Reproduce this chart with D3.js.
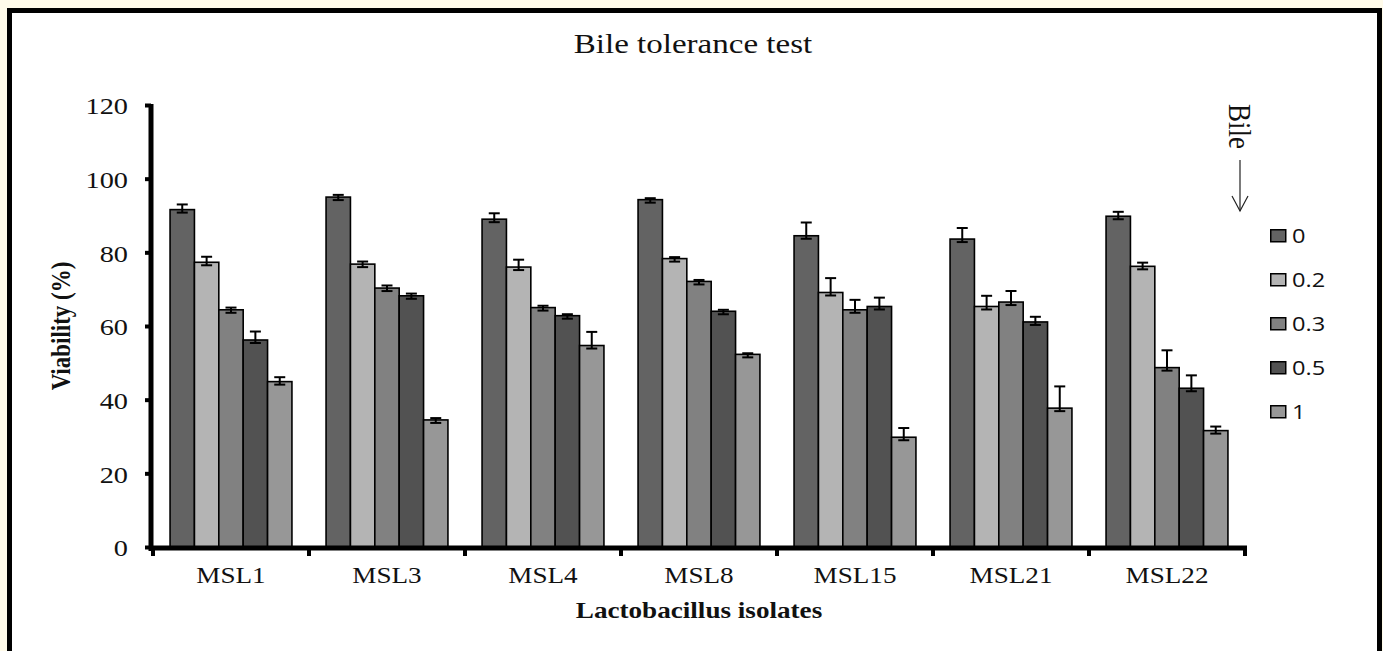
<!DOCTYPE html>
<html>
<head>
<meta charset="utf-8">
<script src="https://cdn.jsdelivr.net/npm/d3@7"></script>
<style>
  html, body { margin: 0; padding: 0; background: #fffbea; }
  svg { display: block; }
</style>
</head>
<body>
<script>
// Data
const isolates = ["MSL1", "MSL3", "MSL4", "MSL8", "MSL15", "MSL21", "MSL22"];
const bileLevels = ["0", "0.2", "0.3", "0.5", "1"];
const barColors = ["#636363", "#b4b4b4", "#818181", "#525252", "#979797"];

// viability (%) per isolate, one value for each bile level
const viability = [
  [91.6, 77.3, 64.4, 56.2, 44.9],
  [95.0, 76.8, 70.3, 68.2, 34.5],
  [89.0, 76.0, 65.0, 62.8, 54.7],
  [94.3, 78.3, 72.1, 64.0, 52.3],
  [84.5, 69.1, 64.4, 65.3, 29.8],
  [83.6, 65.3, 66.5, 61.1, 37.7],
  [89.8, 76.2, 48.7, 43.1, 31.6]
];
// error (upper) per bar
const errors = [
  [1.4, 1.5, 0.6, 2.3, 1.2],
  [0.6, 0.7, 0.7, 0.6, 0.5],
  [1.6, 2.0, 0.5, 0.4, 3.7],
  [0.4, 0.4, 0.4, 0.4, 0.3],
  [3.6, 3.9, 2.7, 2.4, 2.5],
  [3.0, 2.9, 3.0, 1.4, 5.9],
  [1.2, 1.0, 4.7, 3.5, 1.1]
];
const yTicks = [0, 20, 40, 60, 80, 100, 120];

const W = 1383, H = 651;
const serif = "'Liberation Serif', 'Times New Roman', serif";
const sx = 1.18; // the original image is a bit wider than tall, text looks stretched

const svg = d3.select("body").append("svg")
  .attr("width", W)
  .attr("height", H);

// frame
svg.append("rect")
  .attr("x", 9.5).attr("y", 10.5)
  .attr("width", 1370).attr("height", 660)
  .attr("fill", "#fff")
  .attr("stroke", "#000")
  .attr("stroke-width", 5);

// scales
const x = d3.scaleBand()
  .domain(isolates)
  .range([153, 1245]);

const xs = d3.scaleBand()
  .domain(bileLevels)
  .range([0, x.bandwidth()])
  .paddingOuter(0.7);

const y = d3.scaleLinear()
  .domain([0, 120])
  .range([547, 105]);

const rows = isolates.map((name, i) => ({
  name,
  bars: bileLevels.map((lvl, j) => ({ lvl, j, v: viability[i][j], e: errors[i][j] }))
}));

// bars
const groups = svg.selectAll("g.grp")
  .data(rows)
  .enter()
  .append("g")
  .attr("class", "grp")
  .attr("transform", d => `translate(${x(d.name)},0)`);

groups.selectAll("rect")
  .data(d => d.bars)
  .enter()
  .append("rect")
  .attr("x", d => xs(d.lvl))
  .attr("y", d => y(d.v))
  .attr("width", xs.bandwidth())
  .attr("height", d => y(0) - y(d.v))
  .attr("fill", (d) => barColors[d.j])
  .attr("stroke", "#000")
  .attr("stroke-width", 1.6);

// error bars
const err = groups.selectAll("g.err")
  .data(d => d.bars)
  .enter()
  .append("g")
  .attr("class", "err")
  .attr("stroke", "#000")
  .attr("stroke-width", 2);

const cx = d => xs(d.lvl) + xs.bandwidth() / 2;
err.append("line")
  .attr("x1", cx).attr("x2", cx)
  .attr("y1", d => y(d.v) + 3)
  .attr("y2", d => y(d.v + d.e));
err.append("line")
  .attr("x1", d => cx(d) - 5.5)
  .attr("x2", d => cx(d) + 5.5)
  .attr("y1", d => y(d.v + d.e))
  .attr("y2", d => y(d.v + d.e));
err.append("line")
  .attr("x1", d => cx(d) - 5.5)
  .attr("x2", d => cx(d) + 5.5)
  .attr("y1", d => y(d.v) + 3)
  .attr("y2", d => y(d.v) + 3);

// y axis
const yAxis = svg.append("g")
  .attr("transform", `translate(151,0)`)
  .call(d3.axisLeft(y).tickValues(yTicks).tickSize(6).tickPadding(0).tickSizeOuter(0));
yAxis.select(".domain").attr("stroke-width", 5).attr("d", `M0,${y(120) - 1}V${y(0) + 4}`);
yAxis.selectAll(".tick line").attr("stroke-width", 4);
yAxis.selectAll(".tick text")
  .attr("x", null)
  .attr("transform", `translate(-23,1) scale(${sx},1)`)
  .attr("font-family", serif)
  .attr("font-size", 24)
  .attr("fill", "#111");

// x axis
const xAxis = svg.append("g")
  .attr("transform", `translate(0,${y(0) + 1})`)
  .call(d3.axisBottom(x).tickSize(0).tickPadding(0));
xAxis.select(".domain").attr("stroke-width", 5).attr("d", `M149,0H1247`);
xAxis.selectAll(".tick text")
  .attr("y", null).attr("dy", null)
  .attr("transform", `translate(0,35) scale(${sx},1)`)
  .attr("font-family", serif)
  .attr("font-size", 23)
  .attr("fill", "#111");
// category boundary marks
xAxis.selectAll("line.sep")
  .data(isolates.concat(["end"]))
  .enter()
  .append("line")
  .attr("class", "sep")
  .attr("x1", (d, i) => i < isolates.length ? x(d) : x.range()[1])
  .attr("x2", (d, i) => i < isolates.length ? x(d) : x.range()[1])
  .attr("y1", 0)
  .attr("y2", 8)
  .attr("stroke", "#000")
  .attr("stroke-width", 4);

// titles
svg.append("text")
  .attr("transform", `translate(693,53) scale(${sx},1)`)
  .attr("text-anchor", "middle")
  .attr("font-family", serif)
  .attr("font-size", 28)
  .attr("fill", "#111")
  .text("Bile tolerance test");

svg.append("text")
  .attr("transform", `translate(70,326) scale(${sx},1) rotate(-90)`)
  .attr("text-anchor", "middle")
  .attr("font-family", serif)
  .attr("font-weight", "bold")
  .attr("font-size", 23)
  .attr("fill", "#111")
  .text("Viability (%)");

svg.append("text")
  .attr("transform", `translate(699,618) scale(${sx},1)`)
  .attr("text-anchor", "middle")
  .attr("font-family", serif)
  .attr("font-weight", "bold")
  .attr("font-size", 23)
  .attr("fill", "#111")
  .text("Lactobacillus isolates");

// Bile arrow note
svg.append("text")
  .attr("transform", `translate(1229,104) scale(${sx},1) rotate(90)`)
  .attr("font-family", serif)
  .attr("font-size", 27)
  .attr("fill", "#111")
  .text("Bile");
svg.append("line")
  .attr("x1", 1240).attr("x2", 1240)
  .attr("y1", 160).attr("y2", 211)
  .attr("stroke", "#222").attr("stroke-width", 1.2);
svg.append("path")
  .attr("d", "M1232,196L1240,211L1248,196")
  .attr("fill", "none")
  .attr("stroke", "#222").attr("stroke-width", 1.2);

// legend
const legend = svg.append("g")
  .attr("transform", "translate(1270,229)");
const li = legend.selectAll("g")
  .data(bileLevels)
  .enter()
  .append("g")
  .attr("transform", (d, i) => `translate(0,${i * 44})`);
li.append("rect")
  .attr("x", 0.75).attr("y", 0.75)
  .attr("width", 15).attr("height", 12)
  .attr("fill", (d, i) => barColors[i])
  .attr("stroke", "#000")
  .attr("stroke-width", 1.5);
li.append("text")
  .attr("transform", `translate(22,14) scale(${sx},1)`)
  .attr("font-family", "'Open Sans', 'Noto Sans', sans-serif")
  .attr("font-size", 20)
  .attr("fill", "#111")
  .text(d => d);
</script>
</body>
</html>
